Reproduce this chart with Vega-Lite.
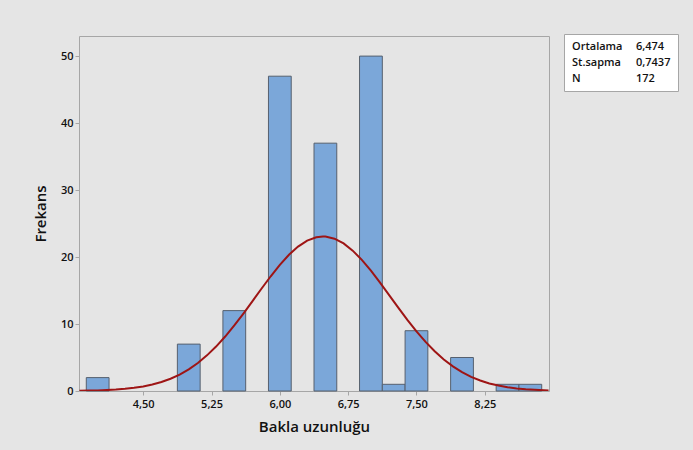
{
  "$schema": "https://vega.github.io/schema/vega-lite/v6.json",
  "autosize": "none",
  "width": 470,
  "height": 355,
  "padding": {"left": 79, "top": 36, "right": 144, "bottom": 59},
  "background": "#e5e5e5",
  "config": {
    "font": "Open Sans",
    "view": {"fill": "white", "stroke": "#a6a6a6", "strokeWidth": 1},
    "axis": {
      "grid": false,
      "domain": false,
      "tickColor": "#a6a6a6",
      "tickSize": 4,
      "labelFont": "Open Sans",
      "labelFontSize": 11,
      "labelFontWeight": 600,
      "labelColor": "#111111",
      "titleFont": "Open Sans",
      "titleFontSize": 15,
      "titleFontWeight": 600,
      "titleColor": "#111111"
    },
    "legend": {
      "symbolSize": 1,
      "labelOffset": -10
    }
  },
  "datasets": {
    "bars": [
      {"lo": 3.875, "hi": 4.125, "count": 2},
      {"lo": 4.875, "hi": 5.125, "count": 7},
      {"lo": 5.375, "hi": 5.625, "count": 12},
      {"lo": 5.875, "hi": 6.125, "count": 47},
      {"lo": 6.375, "hi": 6.625, "count": 37},
      {"lo": 6.875, "hi": 7.125, "count": 50},
      {"lo": 7.125, "hi": 7.375, "count": 1},
      {"lo": 7.375, "hi": 7.625, "count": 9},
      {"lo": 7.875, "hi": 8.125, "count": 5},
      {"lo": 8.375, "hi": 8.625, "count": 1},
      {"lo": 8.625, "hi": 8.875, "count": 1}
    ],
    "curve": [
      {"x": 3.8, "y": 0.036}, {"x": 3.9, "y": 0.058}, {"x": 4.0, "y": 0.091},
      {"x": 4.1, "y": 0.141}, {"x": 4.2, "y": 0.215}, {"x": 4.3, "y": 0.322},
      {"x": 4.4, "y": 0.472}, {"x": 4.5, "y": 0.681}, {"x": 4.6, "y": 0.964},
      {"x": 4.7, "y": 1.341}, {"x": 4.8, "y": 1.832}, {"x": 4.9, "y": 2.457},
      {"x": 5.0, "y": 3.237}, {"x": 5.1, "y": 4.187}, {"x": 5.2, "y": 5.319},
      {"x": 5.3, "y": 6.636}, {"x": 5.4, "y": 8.132}, {"x": 5.5, "y": 9.786},
      {"x": 5.6, "y": 11.565}, {"x": 5.7, "y": 13.423}, {"x": 5.8, "y": 15.300},
      {"x": 5.9, "y": 17.128}, {"x": 6.0, "y": 18.830}, {"x": 6.1, "y": 20.330},
      {"x": 6.2, "y": 21.556}, {"x": 6.3, "y": 22.447}, {"x": 6.4, "y": 22.956},
      {"x": 6.474, "y": 23.07}, {"x": 6.5, "y": 23.056}, {"x": 6.6, "y": 22.741},
      {"x": 6.7, "y": 22.029}, {"x": 6.8, "y": 20.957}, {"x": 6.9, "y": 19.579},
      {"x": 7.0, "y": 17.965}, {"x": 7.1, "y": 16.188}, {"x": 7.2, "y": 14.326},
      {"x": 7.3, "y": 12.450}, {"x": 7.4, "y": 10.627}, {"x": 7.5, "y": 8.908},
      {"x": 7.6, "y": 7.333}, {"x": 7.7, "y": 5.929}, {"x": 7.8, "y": 4.707},
      {"x": 7.9, "y": 3.671}, {"x": 8.0, "y": 2.811}, {"x": 8.1, "y": 2.114},
      {"x": 8.2, "y": 1.561}, {"x": 8.3, "y": 1.133}, {"x": 8.4, "y": 0.807},
      {"x": 8.5, "y": 0.564}, {"x": 8.6, "y": 0.388}, {"x": 8.7, "y": 0.262},
      {"x": 8.8, "y": 0.173}, {"x": 8.9, "y": 0.113}, {"x": 8.95, "y": 0.091}
    ],
    "stats": [
      {"entry": "Ortalama"}, {"entry": "St.sapma"}, {"entry": "N"},
      {"entry": "6,474"}, {"entry": "0,7437"}, {"entry": "172"}
    ]
  },
  "layer": [
    {
      "data": {"name": "bars"},
      "mark": {"type": "rect", "fill": "#7ba7d9", "stroke": "#56606e", "strokeWidth": 1},
      "encoding": {
        "x": {
          "field": "lo", "type": "quantitative",
          "scale": {"domain": [3.795, 8.955], "nice": false, "zero": false},
          "axis": {
            "title": "Bakla uzunluğu",
            "values": [4.5, 5.25, 6.0, 6.75, 7.5, 8.25],
            "labelExpr": "replace(format(datum.value, '.2f'), '.', ',')",
            "labelPadding": 3,
            "titlePadding": 10
          }
        },
        "x2": {"field": "hi"},
        "y": {
          "field": "count", "type": "quantitative",
          "scale": {"domain": [0, 53], "nice": false},
          "axis": {
            "title": "Frekans",
            "values": [0, 10, 20, 30, 40, 50],
            "labelPadding": 2,
            "titlePadding": 12
          }
        },
        "y2": {"datum": 0}
      }
    },
    {
      "data": {"name": "curve"},
      "mark": {"type": "line", "color": "#9e1515", "strokeWidth": 2, "clip": true},
      "encoding": {
        "x": {"field": "x", "type": "quantitative"},
        "y": {"field": "y", "type": "quantitative"}
      }
    },
    {
      "data": {"name": "stats"},
      "mark": {"type": "point", "opacity": 0, "size": 1},
      "encoding": {
        "shape": {
          "field": "entry", "type": "nominal",
          "scale": {"domain": ["Ortalama", "St.sapma", "N", "6,474", "0,7437", "172"]},
          "legend": {
            "title": null,
            "orient": "none",
            "legendX": 485,
            "legendY": -2,
            "columns": 2,
            "columnPadding": 12,
            "rowPadding": 4,
            "padding": 7,
            "symbolSize": 1,
            "symbolOpacity": 0,
            "symbolStrokeWidth": 0,
            "labelOffset": -10,
            "labelFont": "Open Sans",
            "labelFontSize": 11,
            "labelFontWeight": 600,
            "labelColor": "#111111",
            "fillColor": "white",
            "strokeColor": "#a6a6a6"
          }
        }
      }
    }
  ]
}
